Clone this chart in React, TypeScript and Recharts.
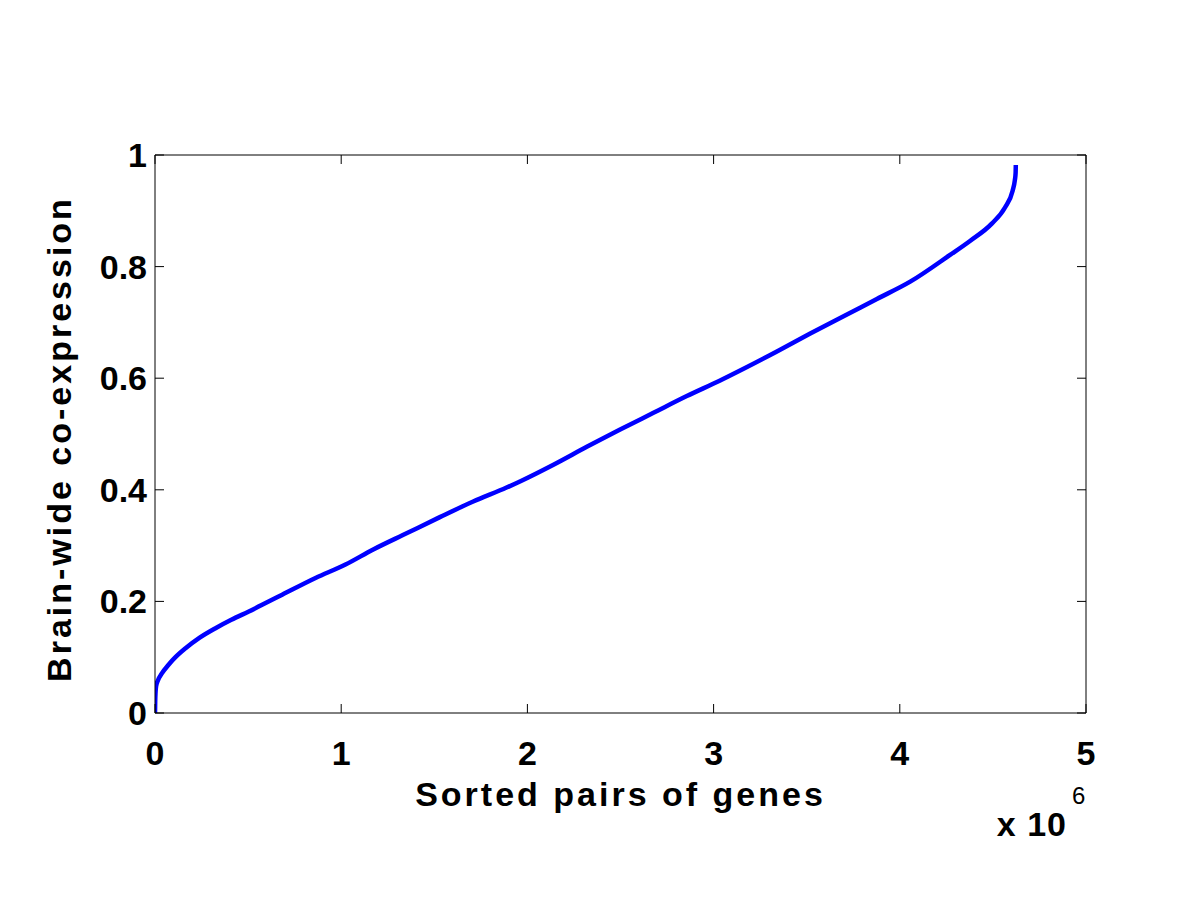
import React from "react";
import { LineChart, Line, XAxis, YAxis, Label } from "recharts";

// Sorted pairs of genes (in units of 10^6)
const pairsMillions = [
  0, 0.001, 0.003, 0.006, 0.015, 0.035, 0.074, 0.11, 0.164, 0.24, 0.325,
  0.41, 0.504, 0.683, 0.862, 1.023, 1.172, 1.351, 1.53, 1.709, 1.888, 1.96,
  2.14, 2.319, 2.498, 2.677, 2.856, 3.035, 3.161, 3.34, 3.519, 3.698, 3.877,
  4.056, 4.27, 4.377, 4.494, 4.565, 4.606, 4.618, 4.622, 4.623,
];
// Brain-wide co-expression
const coexpression = [
  0, 0.02, 0.038, 0.048, 0.058, 0.07, 0.087, 0.1, 0.116, 0.135, 0.152,
  0.167, 0.182, 0.212, 0.242, 0.266, 0.293, 0.322, 0.351, 0.379, 0.404, 0.415,
  0.445, 0.477, 0.508, 0.538, 0.568, 0.596, 0.617, 0.648, 0.68, 0.711, 0.742,
  0.773, 0.821, 0.846, 0.877, 0.906, 0.936, 0.955, 0.968, 0.982,
];
const xTicks = [0, 1, 2, 3, 4, 5];
const yTicks = [0, 0.2, 0.4, 0.6, 0.8, 1];
const xTickLabels = ["0", "1", "2", "3", "4", "5"];
const yTickLabels = ["0", "0.2", "0.4", "0.6", "0.8", "1"];

const data = pairsMillions.map((p, i) => ({ pairs: p, value: coexpression[i] }));

const FONT = "'Liberation Sans', Arial, Helvetica, sans-serif";
const TICK_LEN = 9;

const BottomTick = (props: any) => {
  const { x, y, payload } = props;
  const idx = xTicks.indexOf(payload.value);
  return (
    <g>
      <line x1={x} y1={y} x2={x} y2={y - TICK_LEN} stroke="#000" strokeWidth={1} />
      <text x={x} y={y + 52} textAnchor="middle" fontFamily={FONT} fontWeight="bold" fontSize={34} fill="#000">
        {idx >= 0 ? xTickLabels[idx] : payload.value}
      </text>
    </g>
  );
};

const TopTick = (props: any) => {
  const { x, y } = props;
  return <line x1={x} y1={y} x2={x} y2={y + TICK_LEN} stroke="#000" strokeWidth={1} />;
};

const LeftTick = (props: any) => {
  const { x, y, payload } = props;
  const idx = yTicks.indexOf(payload.value);
  return (
    <g>
      <line x1={x} y1={y} x2={x + TICK_LEN} y2={y} stroke="#000" strokeWidth={1} />
      <text x={x - 8} y={y + 12} textAnchor="end" fontFamily={FONT} fontWeight="bold" fontSize={34} fill="#000">
        {idx >= 0 ? yTickLabels[idx] : payload.value}
      </text>
    </g>
  );
};

const RightTick = (props: any) => {
  const { x, y } = props;
  return <line x1={x} y1={y} x2={x - TICK_LEN} y2={y} stroke="#000" strokeWidth={1} />;
};

const XTitle = (props: any) => {
  const vb = props.viewBox || {};
  const cx = vb.x + vb.width / 2;
  const right = vb.x + vb.width;
  const top = vb.y;
  return (
    <g>
      <text x={cx} y={top + 93} textAnchor="middle" fontFamily={FONT} fontWeight="bold" fontSize={34} letterSpacing={3} fill="#000">
        Sorted pairs of genes
      </text>
      <text x={right - 19} y={top + 123} textAnchor="end" fontFamily={FONT} fontWeight="bold" fontSize={34} letterSpacing={1} fill="#000">
        x 10
      </text>
      <text x={right - 14} y={top + 91} textAnchor="start" fontFamily={FONT} fontWeight="normal" fontSize={24} fill="#000">
        6
      </text>
    </g>
  );
};

const YTitle = (props: any) => {
  const vb = props.viewBox || {};
  const cy = vb.y + vb.height / 2 + 5;
  const bx = vb.x + vb.width - 84;
  return (
    <text
      x={bx}
      y={cy}
      textAnchor="middle"
      fontFamily={FONT}
      fontWeight="bold"
      fontSize={34}
      letterSpacing={3}
      fill="#000"
      transform={`rotate(-90, ${bx}, ${cy})`}
    >
      Brain-wide co-expression
    </text>
  );
};

export default function App() {
  return (
    <div style={{ position: "absolute", left: 0, top: 0, width: 1200, height: 900, background: "#fff" }}>
      <LineChart
        width={1200}
        height={900}
        data={data}
        margin={{ top: 154, right: 113, bottom: 186, left: 154 }}
      >
        <XAxis
          xAxisId="bottom"
          type="number"
          dataKey="pairs"
          domain={[0, 5]}
          ticks={xTicks}
          height={1}
          tickSize={0}
          tickMargin={0}
          tickLine={false}
          axisLine={{ stroke: "#000", strokeWidth: 1 }}
          tick={<BottomTick />}
          interval={0}
          allowDataOverflow
        >
          <Label content={<XTitle />} />
        </XAxis>
        <XAxis
          xAxisId="top"
          orientation="top"
          type="number"
          dataKey="pairs"
          domain={[0, 5]}
          ticks={xTicks}
          height={1}
          tickSize={0}
          tickMargin={0}
          tickLine={false}
          axisLine={{ stroke: "#000", strokeWidth: 1 }}
          tick={<TopTick />}
          interval={0}
          allowDataOverflow
        />
        <YAxis
          yAxisId="left"
          type="number"
          domain={[0, 1]}
          ticks={yTicks}
          width={1}
          tickSize={0}
          tickMargin={0}
          tickLine={false}
          axisLine={{ stroke: "#000", strokeWidth: 1 }}
          tick={<LeftTick />}
          interval={0}
          allowDataOverflow
        >
          <Label content={<YTitle />} />
        </YAxis>
        <YAxis
          yAxisId="right"
          orientation="right"
          type="number"
          domain={[0, 1]}
          ticks={yTicks}
          width={1}
          tickSize={0}
          tickMargin={0}
          tickLine={false}
          axisLine={{ stroke: "#000", strokeWidth: 1 }}
          tick={<RightTick />}
          interval={0}
          allowDataOverflow
        />
        <Line
          xAxisId="bottom"
          yAxisId="left"
          type="monotone"
          dataKey="value"
          stroke="#0000FF"
          strokeWidth={4.5}
          strokeLinejoin="round"
          strokeLinecap="butt"
          dot={false}
          activeDot={false}
          isAnimationActive={false}
        />
      </LineChart>
    </div>
  );
}
